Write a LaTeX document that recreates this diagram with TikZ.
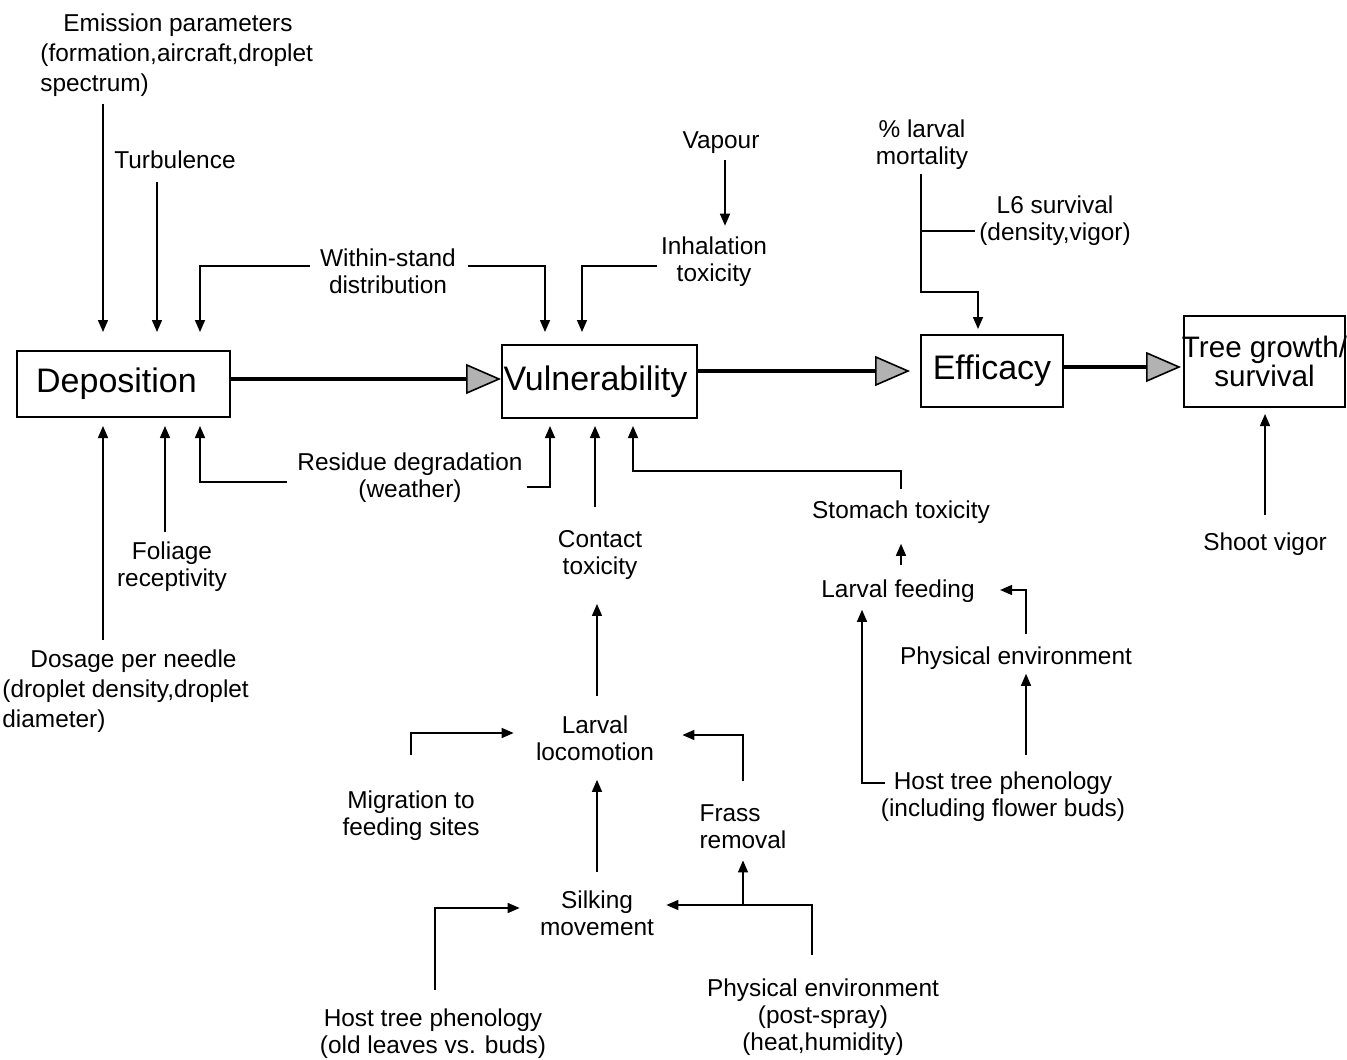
\documentclass[tikz,border=0pt]{standalone}
\usepackage{fontspec}
\setmainfont{Liberation Sans}
\usetikzlibrary{arrows.meta}
\newcommand\labfont{\fontsize{12.2}{13.5}\selectfont}
\newcommand\widefont{\fontsize{12.2}{15}\selectfont}
\newcommand\boxfont{\fontsize{17}{20}\selectfont}
\newcommand\treefont{\fontsize{14.8}{14.5}\selectfont}
\tikzset{
  conn/.style={line width=0.75pt},
  sarr/.style={conn, -{Triangle[length=6pt,width=5pt]}},
  bigarr/.style={line width=2.4pt, -{Triangle[length=17.5pt,width=15pt,fill=gray!60,line width=0.8pt 0 1]}},
  box/.style={draw, line width=1pt, inner sep=0pt, font=\boxfont},
  lab/.style={inner sep=2pt, align=center, font=\labfont}
}
\begin{document}
\begin{tikzpicture}[x=0.5pt,y=-0.5pt]
\useasboundingbox (0,0) rectangle (1347,1059);
\fill[white] (0,0) rectangle (1347,1059);
\clip (0,0) rectangle (1347,1059);

% main boxes
\node[box, minimum width=106.5pt, minimum height=33pt] (dep) at (123.5,384) {Deposition\hspace*{7pt}};
\node[box, minimum width=97.5pt, minimum height=36.5pt] (vul) at (599.5,381.5) {Vulnerability\hspace*{4pt}};
\node[box, minimum width=71pt, minimum height=36pt] (eff) at (992,371) {Efficacy};
\node[box, minimum width=80.5pt, minimum height=45.5pt, align=center, font=\treefont] (tree) at (1264.5,361.5) {\makebox[0pt]{Tree growth/}\\\makebox[0pt]{survival}};

% text nodes
\node[lab, align=left, anchor=north west, inner sep=0pt, font=\widefont] (emis) at (40,13) {\hspace*{11.5pt}Emission parameters\\(formation,aircraft,droplet\\spectrum)};
\node[lab] (turb) at (175,160) {Turbulence};
\node[lab] (within) at (388,271) {Within-stand\\distribution};
\node[lab] (vapour) at (721,143) {Vapour};
\node[lab] (inhal) at (714,262) {Inhalation\\toxicity};
\node[lab] (mort) at (922,145) {\% larval\\mortality};
\node[lab] (l6) at (1055,221) {L6 survival\\(density,vigor)};
\node[lab] (resid) at (410,478) {Residue degradation\\(weather)};
\node[lab] (foliage) at (172,567) {Foliage\\receptivity};
\node[lab, align=left, anchor=north west, inner sep=0pt, font=\widefont] (dose) at (2,649) {\hspace*{14pt}Dosage per needle\\(droplet density,droplet\\diameter)};
\node[lab] (contact) at (600,555) {Contact\\toxicity};
\node[lab] (stomach) at (901,512) {Stomach toxicity};
\node[lab] (feeding) at (898,591) {Larval feeding};
\node[lab] (physA) at (1016,658) {Physical environment};
\node[lab] (hostA) at (1003,797) {Host tree phenology\\(including flower buds)};
\node[lab] (shoot) at (1265,544) {Shoot vigor};
\node[lab] (locom) at (595,738) {Larval\\locomotion};
\node[lab] (migr) at (411,816) {Migration to\\feeding sites};
\node[lab, align=left] (frass) at (743,827) {Frass\\removal};
\node[lab] (silk) at (597,913) {Silking\\movement};
\node[lab] (hostB) at (433,1034) {Host tree phenology\\(old leaves vs. buds)};
\node[lab] (physB) at (823,1017) {Physical environment\\(post-spray)\\(heat,humidity)};

% main flow
\draw[bigarr] (dep.east |- 0,379) -- (vul.west |- 0,379);
\draw[bigarr, shorten >=5pt] (vul.east |- 0,371) -- (eff.west |- 0,371);
\draw[bigarr, shorten >=1pt] (eff.east |- 0,367) -- (tree.west |- 0,367);

% into Deposition from above
\draw[sarr, shorten <=3.5pt, shorten >=9pt] (emis.south -| 103,0) -- (dep.north -| 103,0);
\draw[sarr, shorten <=4.5pt, shorten >=9pt] (turb.south -| 157,0) -- (dep.north -| 157,0);
\draw[sarr, shorten >=9pt] ([xshift=-3pt,yshift=2.5pt]within.west) -| (dep.north -| 200,0);

% into Vulnerability from above
\draw[sarr, shorten >=6pt] ([xshift=4pt,yshift=2.5pt]within.east) -| (vul.north -| 545,0);
\draw[sarr, shorten >=6pt] ([yshift=-2pt]inhal.west) -| (vul.north -| 582,0);
\draw[sarr, shorten <=1pt, shorten >=3.5pt] (vapour.south -| 725,0) -- (inhal.north -| 725,0);

% into Efficacy
\draw[sarr, shorten >=2.5pt] (mort.south -| 921,0) -- (921,292) -| (eff.north -| 978,0);
\draw[conn] (l6.west |- 0,231) -- (mort.south |- 0,231);

% into Deposition from below
\draw[sarr, shorten <=4.5pt, shorten >=4pt] (dose.north -| 103,0) -- (dep.south -| 103,0);
\draw[sarr, shorten <=3pt, shorten >=4pt] (foliage.north -| 165,0) -- (dep.south -| 165,0);
\draw[sarr, shorten >=4pt] ([xshift=-3pt,yshift=-2pt]resid.west) -| (dep.south -| 200,0);

% into Vulnerability from below
\draw[sarr, shorten >=3.5pt] ([yshift=-4.5pt]resid.east) -| (vul.south -| 550,0);
\draw[sarr, shorten <=9.5pt, shorten >=3.5pt] (contact.north -| 595,0) -- (vul.south -| 595,0);
\draw[sarr, shorten <=3.5pt, shorten >=3.5pt] (stomach.north) -- (stomach.north |- 0,471) -| (vul.south -| 633,0);

% stomach branch
\draw[sarr, shorten <=5pt, shorten >=8pt] (feeding.north -| 901,0) -- (stomach.south -| 901,0);
\draw[sarr, shorten <=4pt, shorten >=10.5pt] (physA.north -| 1026,0) |- ([yshift=0.5pt]feeding.east);
\draw[sarr, shorten >=1.5pt] ([xshift=4pt,yshift=7pt]hostA.west) -| (feeding.south -| 862,0);
\draw[sarr, shorten <=6.5pt] (hostA.north -| 1026,0) -- (physA.south -| 1026,0);

% tree growth
\draw[sarr, shorten <=6.5pt, shorten >=3pt] (shoot.north) -- (tree.south -| shoot.north);

% contact branch
\draw[sarr, shorten <=7.5pt, shorten >=10pt] (locom.north -| 597,0) -- (contact.south -| 597,0);
\draw[sarr, shorten >=9pt] (migr.north) ++(0,16pt) |- ([yshift=2.5pt]locom.west);
\draw[sarr, shorten >=12pt] (frass.north) ++(0,10pt) |- ([yshift=1.5pt]locom.east);
\draw[sarr, shorten <=7pt, shorten >=7.5pt] (silk.north -| 597,0) -- (locom.south -| 597,0);
\draw[sarr, shorten >=8pt] (hostB.north -| 435,0) ++(0,7.5pt) |- ([yshift=2.5pt]silk.west);
\coordinate (jn) at ([yshift=4pt]silk.east);
\draw[sarr, shorten >=4pt] ([xshift=-5.5pt]physB.north) ++(0,9.5pt) |- (jn);
\draw[sarr, shorten >=3.5pt] (frass.south |- jn) -- (frass.south);
\end{tikzpicture}
\end{document}
